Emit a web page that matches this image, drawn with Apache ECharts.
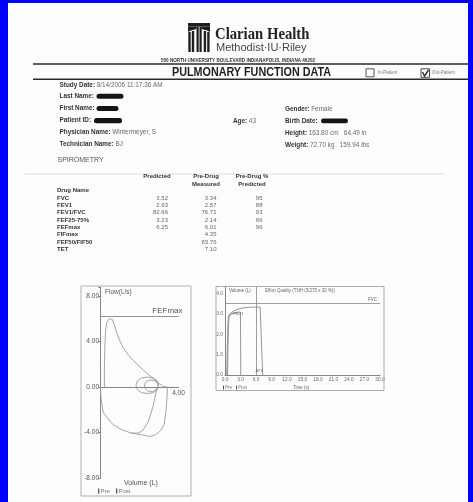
<!DOCTYPE html>
<html><head><meta charset="utf-8">
<script src="https://cdn.jsdelivr.net/npm/echarts@6.0.0/dist/echarts.min.js"></script>
<style>
html,body{margin:0;padding:0;background:#0000fe;width:473px;height:502px;overflow:hidden;}
#page{position:absolute;left:8px;top:3px;width:460px;height:499px;background:#fdfdfd;}
#c{position:absolute;left:0;top:0;width:473px;height:502px;}
</style>
</head><body><div id="page"></div><div id="c"></div>
<script>
// ---------------- DATA ----------------
const hospitalName = 'Clarian Health';
const hospitalSub = 'Methodist\u00B7IU\u00B7Riley';
const hospitalAddress = '550 NORTH UNIVERSITY BOULEVARD INDIANAPOLIS, INDIANA 46202';
const reportTitle = 'PULMONARY FUNCTION DATA';
const patientTypes = ['In-Patient', 'Out-Patient'];
const infoLeft = [
  ['Study Date:', '8/14/2006 11:17:36 AM'],
  ['Last Name:', ''],
  ['First Name:', ''],
  ['Patient ID:', ''],
  ['Physician Name:', 'Wintermeyer, S'],
  ['Technician Name:', 'BJ']
];
const ageInfo = ['Age:', '43'];
const infoRight = [
  ['Gender:', 'Female'],
  ['Birth Date:', ''],
  ['Height:', '163.80 cm   64.49 in'],
  ['Weight:', '72.70 kg   159.94 lbs']
];
const sectionTitle = 'SPIROMETRY';
const tableHeaders = [['Predicted'], ['Pre-Drug', 'Measured'], ['Pre-Drug %', 'Predicted']];
const tableLabels = ['Drug Name', 'FVC', 'FEV1', 'FEV1/FVC', 'FEF25-75%', 'FEFmax', 'FIFmax', 'FEF50/FIF50', 'TET'];
const colPredicted = [null, 3.52, 2.93, 82.66, 3.23, 6.25, null, null, null];
const colMeasured = [null, 3.34, 2.57, 76.71, 2.14, 6.01, 4.35, 63.76, 7.10];
const colPctPredicted = [null, 95, 88, 93, 66, 96, null, null, null];

// Flow-volume loop: [volume L, flow L/s]
const fvExpiration = [[0.2,0],[0.2,1.5],[0.22,3.5],[0.26,5.0],[0.33,5.7],[0.45,6.0],[0.6,5.95],[0.72,5.4],[0.85,4.7],[0.98,4.1],[1.15,3.5],[1.41,2.85],[1.67,2.35],[2.03,1.75],[2.38,1.2],[2.69,0.75],[2.95,0.38],[3.2,0.05],[3.43,0]];
const fvInspirationPre = [[3.43,0],[3.43,-0.3],[3.37,-2.0],[3.26,-3.3],[3.1,-3.8],[2.95,-4.05],[2.75,-4.25],[2.52,-4.35],[2.27,-4.25],[1.9,-4.15],[1.58,-4.05],[1.07,-3.75],[0.64,-3.3],[0.3,-2.6],[0.13,-2.2],[0.04,-1.1],[0.01,-0.55],[0.0,0]];
const fvInspirationPost = [[2.85,0],[2.85,-0.45],[2.69,-1.75],[2.44,-3.1],[2.18,-3.8],[1.95,-4.05],[1.58,-4.05]];
const fvTidalLoop1 = [[1.82,0.15],[1.9,0.55],[2.1,0.8],[2.4,0.87],[2.7,0.8],[2.9,0.55],[2.98,0.15],[2.9,-0.25],[2.7,-0.5],[2.4,-0.57],[2.1,-0.5],[1.9,-0.25],[1.82,0.15]];
const fvTidalLoop2 = [[2.25,0.1],[2.3,0.4],[2.45,0.58],[2.6,0.6],[2.78,0.55],[2.92,0.35],[2.95,0.1],[2.9,-0.15],[2.75,-0.35],[2.6,-0.4],[2.42,-0.35],[2.3,-0.15],[2.25,0.1]];
const fvFEFmaxPredicted = 6.25;
const fvYTicks = [-8, -4, 0, 4, 8];
const fvXTicks = [4];

// Volume-time: [time s, volume L]
const vtPre = [[0.33,0],[0.45,1.3],[0.55,2.3],[0.64,2.89],[0.8,2.98],[1.1,3.05],[1.6,3.14],[2.3,3.22],[3.5,3.3],[4.5,3.33],[5.5,3.34],[6.8,3.34],[7.3,0]];
const vtPost = [[0.5,0],[0.58,1.5],[0.66,2.5],[0.8,2.85],[1.1,2.98],[1.6,3.05],[2.3,3.09],[3.0,3.1],[3.05,0]];
const vtFVCPredicted = 3.52;
const vtMarkerTime = 6.0;
const vtXTicks = [0, 3, 6, 9, 12, 15, 18, 21, 24, 27, 30];
const vtYTicks = [0, 1, 2, 3, 4];

// ---------------- RENDER ----------------
const FONT = '"Liberation Sans", Arial, sans-serif';
const SERIF = '"Liberation Serif", "Times New Roman", serif';

function T(x, y, text, o) {
  o = o || {};
  const st = {
    text: text,
    fontSize: o.size || 6,
    fontFamily: o.family || FONT,
    fontWeight: o.weight || 'normal',
    fill: o.color || '#444',
    align: o.align || 'left', textAlign: o.align || 'left',
    verticalAlign: 'middle', textVerticalAlign: 'middle'
  };
  if (o.rich) st.rich = o.rich;
  return { type: 'text', x: x, y: y, scaleX: o.sx || 1, z: 20, silent: true, style: st };
}
function R(x, y, w, h, style, r) {
  return { type: 'rect', z: 19, silent: true, shape: { x: x, y: y, width: w, height: h, r: r || 0 }, style: style };
}
function L(x1, y1, x2, y2, color, w) {
  return { type: 'line', z: 19, silent: true, shape: { x1: x1, y1: y1, x2: x2, y2: y2 }, style: { stroke: color, lineWidth: w } };
}
const richInfo = {
  b: { fontSize: 6.4, fontWeight: 'bold', fontFamily: FONT, fill: '#333' },
  v: { fontSize: 6.4, fontFamily: FONT, fill: '#6a6a6a' }
};
function info(x, y, pair) {
  return T(x, y, '{b|' + pair[0] + '} {v|' + pair[1] + '}', { rich: richInfo });
}

const els = [];
// Logo
els.push(R(188, 23, 22, 3.5, { fill: '#1e1e1e' }));
els.push({ type: 'polygon', z: 19, silent: true, shape: { points: [[188,26.5],[196.5,26.5],[196.5,29],[191,30.5],[188,32]] }, style: { fill: '#1e1e1e' } });
els.push({ type: 'polygon', z: 19, silent: true, shape: { points: [[201.5,26.5],[210,26.5],[210,32],[207,30.5],[201.5,29]] }, style: { fill: '#1e1e1e' } });
[[188.3,32],[191.8,31],[196.5,26.5],[199.5,26.5],[203.7,31],[207.2,32]].forEach(function (p, i) {
  els.push(R(p[0], p[1], (i === 2 || i === 3) ? 2.2 : 2.4, 52 - p[1], { fill: '#1e1e1e' }));
});
els.push(T(215, 35, hospitalName, { size: 16, family: SERIF, weight: 'bold', color: '#222', sx: 0.92 }));
els.push(T(216, 47.8, hospitalSub, { size: 11, color: '#444' }));
els.push(T(161, 60.6, hospitalAddress, { size: 4.6, weight: 'bold', color: '#333' }));
els.push(L(33, 64, 468, 64, '#2a2a2a', 1.6));
els.push(T(172, 72.7, reportTitle, { size: 12.5, weight: 'bold', color: '#1e1e1e', sx: 0.862 }));
els.push(L(33, 79.2, 468, 79.2, '#2a2a2a', 1.5));
els.push(R(366, 68.8, 8, 8, { fill: 'none', stroke: '#444', lineWidth: 0.9 }));
els.push(T(378, 73, patientTypes[0], { size: 4.5, color: '#777' }));
els.push(R(421, 68.8, 8.5, 8.5, { fill: 'none', stroke: '#333', lineWidth: 0.9 }));
els.push({ type: 'polyline', z: 20, silent: true, shape: { points: [[422.5,72],[424.5,76],[428.5,70]] }, style: { stroke: '#333', lineWidth: 1.4, fill: 'none' } });
els.push(T(432, 73, patientTypes[1], { size: 4.5, color: '#777' }));

// Patient info
const leftY = [85, 96.5, 108.5, 120.5, 132.5, 144];
infoLeft.forEach(function (p, i) { els.push(info(59.5, leftY[i], p)); });
els.push(info(233, 121, ageInfo));
const rightY = [109, 121, 133, 145];
infoRight.forEach(function (p, i) { els.push(info(285, rightY[i], p)); });
// redaction marks
els.push(R(96.5, 93.8, 27, 5, { fill: '#151515' }, 2.5));
els.push(R(96.5, 106, 22, 5, { fill: '#151515' }, 2.5));
els.push(R(94, 118, 28, 5.2, { fill: '#151515' }, 2.5));
els.push(R(321, 118.6, 27, 4.6, { fill: '#151515' }, 2.3));

els.push(T(57.5, 160.5, sectionTitle, { size: 7, color: '#555' }));
els.push(L(25, 174, 445, 174, '#d4d4d4', 0.8));

// Table
const headX = [157, 206, 252];
tableHeaders.forEach(function (h, i) {
  h.forEach(function (line, j) {
    els.push(T(headX[i], 176.7 + j * 7.3, line, { size: 6, weight: 'bold', color: '#333', align: 'center' }));
  });
});
tableLabels.forEach(function (lab, i) {
  const y = 190.7 + i * 7.33;
  els.push(T(57, y, lab, { size: 6, weight: 'bold', color: '#333' }));
  if (colPredicted[i] != null) els.push(T(168, y, colPredicted[i].toFixed(2), { size: 6, color: '#666', align: 'right' }));
  if (colMeasured[i] != null) els.push(T(216.5, y, colMeasured[i].toFixed(2), { size: 6, color: '#666', align: 'right' }));
  if (colPctPredicted[i] != null) els.push(T(262.5, y, String(colPctPredicted[i]), { size: 6, color: '#666', align: 'right' }));
});

// Flow-volume frame & texts
els.push(R(81, 286, 110, 210, { fill: 'none', stroke: '#a8a8a8', lineWidth: 0.9 }));
els.push(T(105, 292, 'Flow(L/s)', { size: 6.5, color: '#555' }));
els.push(T(124, 483, 'Volume (L)', { size: 7, color: '#555' }));
els.push(R(98, 488.5, 1.3, 5, { fill: '#555' }));
els.push(T(100.5, 491.2, 'Pre', { size: 6, color: '#777' }));
els.push(R(116, 488.5, 1.3, 5, { fill: '#555' }));
els.push(T(118.5, 491.2, 'Post', { size: 6, color: '#777' }));

// Volume-time frame & texts
els.push(R(216, 286.5, 168, 104, { fill: 'none', stroke: '#a0a0a0', lineWidth: 0.9 }));
els.push(T(229, 290.8, 'Volume (L)', { size: 4.5, color: '#555' }));
els.push(T(265, 290.8, 'Effort Quality (TNH (3/275 s 30 %))', { size: 4.5, color: '#666' }));
els.push(T(230.5, 313.5, '\u2713FEV1', { size: 4, color: '#666' }));
els.push(T(255.5, 371, 'ATS', { size: 4, color: '#666' }));
els.push(R(223, 385.5, 1, 4, { fill: '#555' }));
els.push(T(225, 387.7, 'Pre', { size: 4.5, color: '#777' }));
els.push(R(236, 385.5, 1, 4, { fill: '#555' }));
els.push(T(238, 387.7, 'Post', { size: 4.5, color: '#777' }));
els.push(T(293, 388, 'Time (s)', { size: 4.5, color: '#666' }));

const curve = { type: 'line', showSymbol: false, symbol: 'none', silent: true, smooth: false,
  lineStyle: { color: '#9a9a9a', width: 0.9 } };

const option = {
  backgroundColor: 'transparent',
  animation: false,
  graphic: { elements: els },
  grid: [
    { left: 100.5, top: 287, width: 78, height: 191 },
    { left: 225, top: 287, width: 155, height: 88 }
  ],
  xAxis: [
    { gridIndex: 0, type: 'value', min: 0, max: 4, interval: 4, position: 'bottom', offset: -91,
      axisLine: { onZero: false, lineStyle: { color: '#777', width: 0.9 } },
      axisTick: { show: false }, splitLine: { show: false },
      axisLabel: { fontSize: 6.5, color: '#555', fontFamily: FONT, margin: 3,
        formatter: function (v) { return fvXTicks.indexOf(v) >= 0 ? v.toFixed(2) : ''; } } },
    { gridIndex: 1, type: 'value', min: 0, max: 30, interval: 3,
      axisLine: { onZero: false, lineStyle: { color: '#777', width: 0.9 } },
      axisTick: { show: false }, splitLine: { show: false },
      axisLabel: { fontSize: 4.8, color: '#666', fontFamily: FONT, margin: 2.5,
        formatter: function (v) { return vtXTicks.indexOf(v) >= 0 ? v.toFixed(1) : ''; } } }
  ],
  yAxis: [
    { gridIndex: 0, type: 'value', min: -8, max: 8.79, interval: 4,
      axisLine: { show: true, onZero: false, lineStyle: { color: '#777', width: 0.9 } },
      axisTick: { show: true, length: 2, lineStyle: { color: '#777' } }, splitLine: { show: false },
      axisLabel: { fontSize: 6.5, color: '#555', fontFamily: FONT, margin: 1.5,
        formatter: function (v) { return fvYTicks.indexOf(v) >= 0 ? v.toFixed(2) : ''; } } },
    { gridIndex: 1, type: 'value', min: 0, max: 4.33, interval: 1,
      axisLine: { show: true, onZero: false, lineStyle: { color: '#777', width: 0.9 } },
      axisTick: { show: false }, splitLine: { show: false },
      axisLabel: { fontSize: 4.8, color: '#666', fontFamily: FONT, margin: 2,
        formatter: function (v) { return vtYTicks.indexOf(v) >= 0 ? v.toFixed(1) : ''; } } }
  ],
  series: [
    Object.assign({}, curve, { name: 'Expiration', xAxisIndex: 0, yAxisIndex: 0, data: fvExpiration,
      markLine: { silent: true, symbol: 'none', animation: false,
        lineStyle: { color: '#888', type: 'solid', width: 0.9 },
        label: { show: true, position: 'insideEndTop', formatter: 'FEFmax', fontSize: 8, color: '#555', fontFamily: FONT, distance: [-4, 1] },
        data: [{ yAxis: fvFEFmaxPredicted }] } }),
    Object.assign({}, curve, { name: 'Inspiration Pre', xAxisIndex: 0, yAxisIndex: 0, data: fvInspirationPre }),
    Object.assign({}, curve, { name: 'Inspiration Post', xAxisIndex: 0, yAxisIndex: 0, data: fvInspirationPost }),
    Object.assign({}, curve, { name: 'Tidal 1', xAxisIndex: 0, yAxisIndex: 0, data: fvTidalLoop1 }),
    Object.assign({}, curve, { name: 'Tidal 2', xAxisIndex: 0, yAxisIndex: 0, data: fvTidalLoop2 }),
    Object.assign({}, curve, { name: 'VT Pre', xAxisIndex: 1, yAxisIndex: 1, data: vtPre, lineStyle: { color: '#8a8a8a', width: 0.9 },
      markLine: { silent: true, symbol: 'none', animation: false,
        lineStyle: { color: '#888', type: 'solid', width: 0.8 },
        data: [
          { yAxis: vtFVCPredicted, label: { show: true, position: 'insideEndTop', formatter: 'FVC', fontSize: 4.5, color: '#666', distance: [3, 1] } },
          { xAxis: vtMarkerTime, label: { show: false } }
        ] } }),
    Object.assign({}, curve, { name: 'VT Post', xAxisIndex: 1, yAxisIndex: 1, data: vtPost, lineStyle: { color: '#8a8a8a', width: 0.9 } })
  ]
};
const chart = echarts.init(document.getElementById('c'), null, { renderer: 'canvas', width: 473, height: 502 });
chart.setOption(option);
</script>
</body></html>
